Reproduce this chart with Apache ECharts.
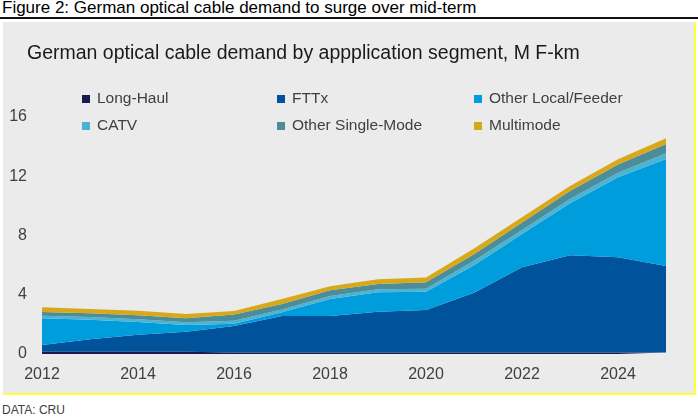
<!DOCTYPE html>
<html><head><meta charset="utf-8">
<script src="https://cdn.jsdelivr.net/npm/echarts@6/dist/echarts.min.js"></script>
<style>
html,body{margin:0;padding:0;background:#fff;width:698px;height:417px;overflow:hidden;font-family:"Liberation Sans",Arial,sans-serif;}
#cap{position:absolute;left:2px;top:-2px;font-size:17px;color:#000;white-space:nowrap;}
#rule{position:absolute;left:0;top:17px;width:698px;height:2px;background:#111;}
#panel{position:absolute;left:3px;top:22px;width:691px;height:371px;background:#ebebeb;border-right:2px solid #ffff33;border-bottom:2px solid #ffff33;}
#src{position:absolute;left:2px;top:403px;font-size:12px;color:#404040;}
#chart{position:absolute;left:0;top:0;width:698px;height:417px;}
</style></head>
<body>
<div id="cap">Figure 2: German optical cable demand to surge over mid-term</div>
<div id="rule"></div>
<div id="panel"></div>
<div id="src">DATA: CRU</div>
<div id="chart"></div>
<script>
var years = ['2012','2013','2014','2015','2016','2017','2018','2019','2020','2021','2022','2023','2024','2025'];
var longHaul   = [0.15,0.15,0.15,0.15,0.10,0.10,0.10,0.10,0.10,0.10,0.10,0.10,0.10,0.10];
var fttx       = [0.45,0.84,1.15,1.35,1.79,2.47,2.47,2.76,2.87,4.04,5.75,6.56,6.43,5.84];
var otherLocal = [1.81,1.33,0.86,0.46,0.16,0.25,1.14,1.31,1.23,1.86,2.25,3.51,5.40,7.23];
var catv       = [0.18,0.18,0.18,0.18,0.20,0.18,0.20,0.20,0.20,0.29,0.27,0.29,0.31,0.38];
var otherSM    = [0.25,0.25,0.27,0.27,0.42,0.38,0.40,0.36,0.45,0.45,0.50,0.54,0.56,0.63];
var multimode  = [0.32,0.29,0.31,0.29,0.24,0.34,0.27,0.32,0.32,0.38,0.36,0.34,0.34,0.38];
var yTicks = [0,4,8,12,16];

var names  = ['Long-Haul','FTTx','Other Local/Feeder','CATV','Other Single-Mode','Multimode'];
var colors = ['#1b1a4e','#00529b','#009ddc','#4bb3d3','#4d8d99','#d9a818'];
var vals   = [longHaul,fttx,otherLocal,catv,otherSM,multimode];

var series = names.map(function(n,i){
  return {
    name:n, type:'line', stack:'total', data:vals[i],
    showSymbol:false, symbol:'none', smooth:false,
    lineStyle:{width:0}, areaStyle:{color:colors[i], opacity:1},
    itemStyle:{color:colors[i]}, emphasis:{disabled:true}, z:2+i
  };
});

var legPos = [
  {l:77, t:86},{l:272, t:86},{l:469, t:86},
  {l:77, t:113},{l:272, t:113},{l:469, t:113}
];
var legends = names.map(function(n,i){
  return {
    data:[{name:n, icon:'rect'}], left:legPos[i].l, top:legPos[i].t,
    itemWidth:8, itemHeight:8, itemGap:0, selectedMode:false,
    textStyle:{fontSize:15.5, color:'#404040', fontFamily:'Liberation Sans', padding:[0,0,0,2], lineHeight:16}
  };
});

var chart = echarts.init(document.getElementById('chart'), null, {renderer:'canvas'});
chart.setOption({
  animation:false,
  backgroundColor:'transparent',
  color:colors,
  title:{
    text:'German optical cable demand by appplication segment, M F-km',
    left:22, top:39,
    textStyle:{fontSize:19.5, fontWeight:'normal', color:'#1a1a1a', fontFamily:'Liberation Sans'}
  },
  legend:legends,
  grid:{left:42, right:32, top:117, bottom:63, containLabel:false},
  xAxis:{
    type:'category', data:years, boundaryGap:false,
    axisLine:{show:false}, axisTick:{show:false}, splitLine:{show:false},
    axisLabel:{fontSize:16, color:'#404040', margin:13, fontFamily:'Liberation Sans', interval:1}
  },
  yAxis:{
    type:'value', min:yTicks[0], max:yTicks[yTicks.length-1], interval:4,
    axisLine:{show:false}, axisTick:{show:false}, splitLine:{show:false},
    axisLabel:{fontSize:16, color:'#404040', margin:15, fontFamily:'Liberation Sans'}
  },
  series:series
});
</script>
</body></html>
